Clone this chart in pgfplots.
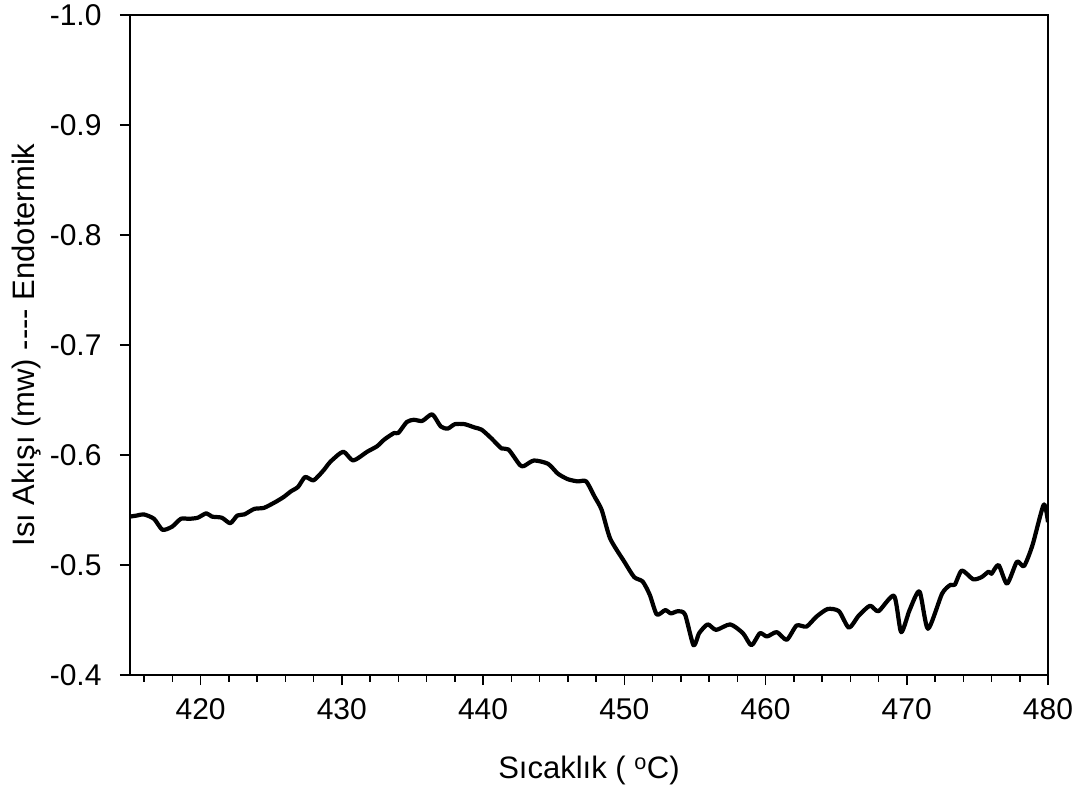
\documentclass[border=0pt]{standalone}
\usepackage{pgfplots}
\pgfplotsset{compat=1.18}
\usepackage{fontspec}
\setmainfont{Liberation Sans}
\newcommand\tf{\fontsize{30}{34}\selectfont}
\begin{document}
\begin{tikzpicture}
\begin{axis}[
  name=ax,
  scale only axis,
  width=918pt, height=660pt,
  xmin=415, xmax=480,
  ymin=-1.0, ymax=-0.4,
  y dir=reverse,
  axis line style={line width=1.8pt},
  every tick/.style={black, line width=1.5pt},
  tick align=outside,
  major tick length=10pt,
  minor tick length=6.5pt,
  xtick={420,430,440,450,460,470,480},
  xticklabels={420,430,440,450,460,470,480},
  minor xtick={416,418,422,424,426,428,432,434,436,438,442,444,446,448,452,454,456,458,462,464,466,468,472,474,476,478},
  ytick={-1.0,-0.9,-0.8,-0.7,-0.6,-0.5,-0.4},
  yticklabels={-1.0,-0.9,-0.8,-0.7,-0.6,-0.5,-0.4},
  xtick pos=bottom, ytick pos=left,
  every tick label/.append style={font=\tf},
  xticklabel style={yshift=-10pt},
  yticklabel style={xshift=-15pt},
  xlabel={Sıcaklık ( \textsuperscript{o}C)},
  ylabel={Isı Akışı (mw) -{}-{}-{}- Endotermik},
  label style={font=\fontsize{31}{35}\selectfont},
  xlabel style={yshift=-29pt},
  ylabel style={yshift=2pt},
  clip=true,
]
\addplot[black, line width=4.2pt, line join=round, smooth, tension=0.4] coordinates {
(415.0,-0.544) (415.5,-0.545) (415.98,-0.546) (416.7,-0.542) (417.3,-0.532) (418.0,-0.535)
(418.6,-0.542) (419.2,-0.542) (419.8,-0.543) (420.4,-0.547) (420.8,-0.544) (421.5,-0.543)
(422.1,-0.538) (422.6,-0.545) (423.1,-0.546) (423.8,-0.551) (424.5,-0.552) (425.4,-0.558)
(425.9,-0.562) (426.4,-0.567) (426.9,-0.571) (427.4,-0.580) (428.0,-0.577) (428.7,-0.586)
(429.2,-0.594) (430.1,-0.603) (430.8,-0.595) (431.8,-0.603) (432.5,-0.608) (433.0,-0.614)
(433.7,-0.620) (434.0,-0.620) (434.6,-0.630) (435.1,-0.632) (435.7,-0.631) (436.4,-0.637)
(437.0,-0.626) (437.5,-0.624) (438.0,-0.628) (438.7,-0.628) (439.4,-0.625) (439.9,-0.623)
(440.6,-0.615) (441.3,-0.606) (441.8,-0.605) (442.6,-0.591) (442.9,-0.590) (443.6,-0.595)
(444.6,-0.592) (445.3,-0.583) (446.0,-0.578) (446.7,-0.576) (447.3,-0.576) (447.9,-0.562)
(448.4,-0.550) (449.0,-0.524) (450.0,-0.503) (450.7,-0.489) (451.3,-0.485) (451.8,-0.473)
(452.3,-0.455) (452.9,-0.459) (453.3,-0.456) (453.8,-0.458) (454.3,-0.455) (454.9,-0.427)
(455.3,-0.438) (455.9,-0.446) (456.5,-0.441) (457.5,-0.446) (458.4,-0.438) (459.0,-0.427)
(459.6,-0.438) (460.1,-0.435) (460.8,-0.439) (461.5,-0.432) (462.2,-0.445) (462.9,-0.444)
(463.6,-0.453) (464.4,-0.460) (465.2,-0.458) (465.9,-0.443) (466.6,-0.454) (467.4,-0.463)
(468.0,-0.458) (469.1,-0.472) (469.6,-0.439) (470.2,-0.459) (470.9,-0.476) (471.5,-0.442)
(472.5,-0.474) (473.1,-0.482) (473.4,-0.482) (473.9,-0.495) (474.7,-0.487) (475.3,-0.489)
(475.8,-0.494) (476.0,-0.492) (476.5,-0.500) (477.1,-0.483) (477.8,-0.503) (478.3,-0.499)
(478.9,-0.518) (479.7,-0.555) (480.0,-0.539)
};
\end{axis}
\pgfresetboundingbox
\path ([xshift=-130pt,yshift=-118pt]ax.south west) rectangle ([xshift=32pt,yshift=15pt]ax.north east);
\end{tikzpicture}
\end{document}
